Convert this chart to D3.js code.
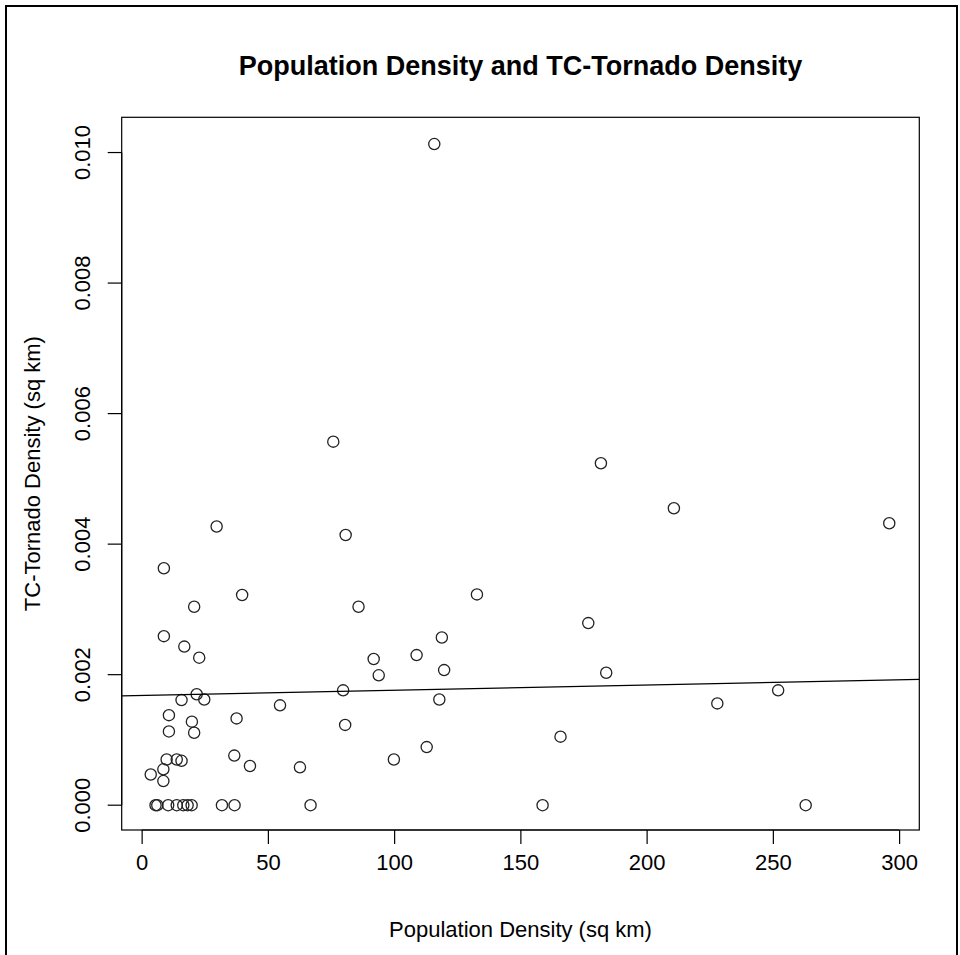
<!DOCTYPE html>
<html>
<head>
<meta charset="utf-8">
<script src="https://cdn.jsdelivr.net/npm/d3@7"></script>
<style>
  html, body { margin: 0; padding: 0; background: #fff; }
  svg { display: block; font-family: "Liberation Sans", Arial, Helvetica, sans-serif; }
</style>
</head>
<body>
<svg id="chart" width="960" height="955"></svg>
<script>
// data
const popDensity = [
  115.9, 75.9, 181.9, 210.8, 296.1, 29.7, 80.8, 8.8, 39.8, 132.8,
  20.8, 85.9, 176.9, 8.8, 118.9, 16.9, 108.9, 22.8, 91.9, 119.8,
  184.0, 93.9, 79.8, 252.1, 21.8, 15.8, 24.8, 117.9, 228.0, 54.8,
  10.8, 19.9, 37.6, 80.6, 10.8, 20.8, 165.9, 112.9, 36.7, 99.9,
  9.9, 13.9, 15.8, 42.9, 62.7, 8.6, 3.6, 8.6,
  5.5, 6.2, 10.5, 13.9, 16.5, 18.2, 19.8, 31.8, 36.8, 66.9, 158.8, 263.0
];
const tornadoDensity = [
  0.01013, 0.00557, 0.00524, 0.00455, 0.00432, 0.00427, 0.00414, 0.00363, 0.00322, 0.00323,
  0.00304, 0.00304, 0.00279, 0.00259, 0.00257, 0.00243, 0.00230, 0.00226, 0.00224, 0.00207,
  0.00203, 0.00199, 0.00176, 0.00176, 0.00170, 0.00161, 0.00162, 0.00162, 0.00156, 0.00153,
  0.00138, 0.00128, 0.00133, 0.00123, 0.00113, 0.00111, 0.00105, 0.00089, 0.00076, 0.00070,
  0.00070, 0.00070, 0.00068, 0.00060, 0.00058, 0.00055, 0.00047, 0.00037,
  0, 0, 0, 0, 0, 0, 0, 0, 0, 0, 0, 0
];
// fitted line (intercept, slope) as drawn
const fitCoef = [0.001681, 0.000000798];

const xTicks = [0, 50, 100, 150, 200, 250, 300];
const yTicks = [0, 0.002, 0.004, 0.006, 0.008, 0.010];

const titleText = "Population Density and TC-Tornado Density";
const xLabel = "Population Density (sq km)";
const yLabel = "TC-Tornado Density (sq km)";

const svg = d3.select("#chart");
const box = { left: 121.7, right: 919.3, top: 117.3, bottom: 830 };
const labelSize = 22;

// outer frame
svg.append("path")
  .attr("d", "M6,960 V6 H957 V960")
  .attr("fill", "none")
  .attr("stroke", "#000")
  .attr("stroke-width", 2);

const x = d3.scaleLinear().domain([-7.9, 308]).range([box.left, box.right]);
const y = d3.scaleLinear().domain([-0.00038, 0.01054]).range([box.bottom, box.top]);

// title
svg.append("text")
  .attr("x", (box.left + box.right) / 2)
  .attr("y", 75)
  .attr("text-anchor", "middle")
  .attr("font-weight", "bold")
  .attr("font-size", 27)
  .text(titleText);

// x axis
const xAxis = svg.append("g")
  .attr("transform", `translate(0,${box.bottom})`)
  .call(d3.axisBottom(x).tickValues(xTicks).tickSize(14).tickPadding(10).tickFormat(d3.format("d")));
xAxis.select(".domain").attr("d", `M${x(xTicks[0])},0H${x(xTicks[xTicks.length - 1])}`);
xAxis.selectAll("text").attr("font-size", labelSize).attr("font-family", null).attr("fill", "#000");
xAxis.selectAll("line, path").attr("stroke", "#000").attr("stroke-width", 1.2);

// y axis
const yAxis = svg.append("g")
  .attr("transform", `translate(${box.left},0)`)
  .call(d3.axisLeft(y).tickValues(yTicks).tickSize(14).tickFormat(d3.format(".3f")));
yAxis.select(".domain").attr("d", `M0,${y(yTicks[0])}V${y(yTicks[yTicks.length - 1])}`);
yAxis.selectAll("line, path").attr("stroke", "#000").attr("stroke-width", 1.2);
yAxis.selectAll("text")
  .attr("font-size", labelSize)
  .attr("font-family", null)
  .attr("fill", "#000")
  .attr("x", null).attr("dy", null)
  .attr("text-anchor", "middle")
  .attr("transform", d => `translate(-32,${y(d)}) rotate(-90)`)
  .attr("y", 0);
yAxis.selectAll(".tick").attr("transform", null);
yAxis.selectAll(".tick line").attr("y1", d => y(d)).attr("y2", d => y(d));

// plot box
svg.append("rect")
  .attr("x", box.left).attr("y", box.top)
  .attr("width", box.right - box.left).attr("height", box.bottom - box.top)
  .attr("fill", "none").attr("stroke", "#000").attr("stroke-width", 1.2);

// axis titles
svg.append("text")
  .attr("x", (box.left + box.right) / 2)
  .attr("y", 937)
  .attr("text-anchor", "middle")
  .attr("font-size", labelSize)
  .text(xLabel);

svg.append("text")
  .attr("transform", `translate(40,${(box.top + box.bottom) / 2}) rotate(-90)`)
  .attr("text-anchor", "middle")
  .attr("font-size", labelSize)
  .text(yLabel);

// points
const pts = popDensity.map((d, i) => ({ x: d, y: tornadoDensity[i] }));
svg.append("g")
  .selectAll("circle")
  .data(pts)
  .join("circle")
  .attr("cx", d => x(d.x))
  .attr("cy", d => y(d.y))
  .attr("r", 5.6)
  .attr("fill", "none")
  .attr("stroke", "#222")
  .attr("stroke-width", 1.3);

// regression line across the plot region
const xd = x.domain();
svg.append("line")
  .attr("x1", x(xd[0])).attr("y1", y(fitCoef[0] + fitCoef[1] * xd[0]))
  .attr("x2", x(xd[1])).attr("y2", y(fitCoef[0] + fitCoef[1] * xd[1]))
  .attr("stroke", "#000")
  .attr("stroke-width", 1.3);
</script>
</body>
</html>
